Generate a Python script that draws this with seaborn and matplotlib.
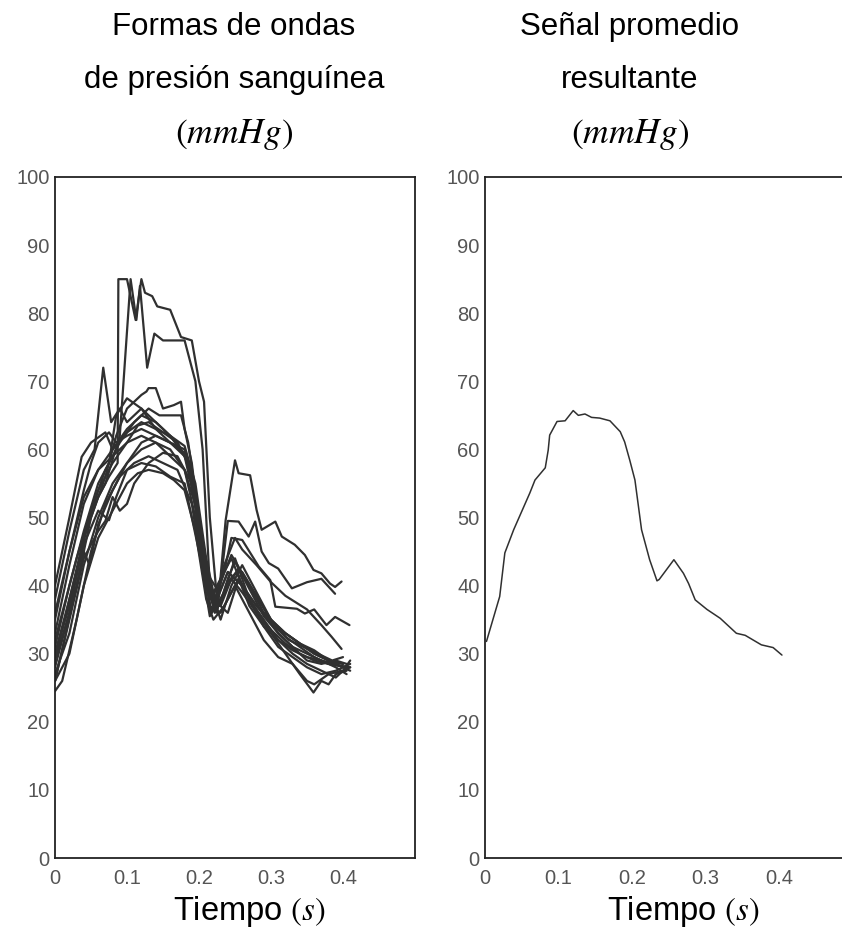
import numpy as np
import pandas as pd
import matplotlib
matplotlib.use("Agg")
import matplotlib.pyplot as plt
import seaborn as sns

# ---- Individual blood-pressure waveforms (time in s, pressure in mmHg) ----
wave_01_t = [0, 0.02, 0.04, 0.06, 0.075, 0.087, 0.088, 0.10, 0.112, 0.12, 0.125, 0.135, 0.142, 0.16, 0.175, 0.19, 0.20, 0.207, 0.215, 0.225, 0.24, 0.26, 0.28, 0.30, 0.32, 0.34, 0.36, 0.38, 0.40]
wave_01_p = [29, 38, 47, 53, 56, 58, 85, 85, 79, 85, 83, 82.5, 81, 80.5, 76.5, 76, 70, 67, 50, 38, 42, 40, 37, 34.5, 33, 31.5, 30, 29, 28.5]

wave_02_t = [0, 0.03, 0.05, 0.07, 0.09, 0.105, 0.113, 0.118, 0.128, 0.138, 0.15, 0.18, 0.195, 0.205, 0.215, 0.23, 0.245, 0.26, 0.28, 0.30, 0.32, 0.34, 0.36, 0.38, 0.405]
wave_02_p = [32, 44, 51, 55, 62, 85, 79, 84, 72, 77, 76, 76, 70, 60, 40, 37, 41, 39, 36, 33.5, 31.5, 30, 29, 28.5, 28]

wave_03_t = [0, 0.02, 0.04, 0.055, 0.067, 0.078, 0.09, 0.10, 0.12, 0.14, 0.16, 0.18, 0.19, 0.205, 0.215, 0.23, 0.245, 0.26, 0.28, 0.30, 0.32, 0.34, 0.36, 0.38, 0.40]
wave_03_p = [38, 48, 57, 60, 72, 64, 66, 64, 66, 63, 61, 60, 56, 45, 38, 41, 44, 40, 37, 35, 33, 31.5, 30, 29, 28]

wave_04_t = [0, 0.03, 0.05, 0.07, 0.085, 0.10, 0.12, 0.127, 0.13, 0.14, 0.15, 0.165, 0.175, 0.18, 0.19, 0.205, 0.22, 0.235, 0.25, 0.26, 0.28, 0.30, 0.32, 0.35, 0.37, 0.384, 0.398]
wave_04_p = [26, 40, 50, 56, 62, 66, 68, 68.5, 69, 69, 66, 66.5, 67, 63, 58, 45, 37, 43, 47, 45.3, 43, 40.5, 38.5, 36.5, 34.2, 32.5, 30.7]

wave_05_t = [0, 0.03, 0.05, 0.07, 0.09, 0.11, 0.13, 0.145, 0.16, 0.175, 0.185, 0.20, 0.215, 0.225, 0.24, 0.255, 0.269, 0.278, 0.287, 0.297, 0.31, 0.329, 0.35, 0.37, 0.389]
wave_05_p = [30, 42, 51, 57, 61, 64, 66, 65, 65, 65, 61, 50, 40, 36, 49.5, 49.4, 47.2, 49.4, 45, 43.3, 42.5, 39.6, 40.5, 41, 38.8]

wave_06_t = [0, 0.02, 0.037, 0.05, 0.07, 0.08, 0.10, 0.12, 0.14, 0.16, 0.18, 0.195, 0.21, 0.228, 0.237, 0.25, 0.255, 0.271, 0.28, 0.287, 0.306, 0.315, 0.333, 0.347, 0.359, 0.37, 0.382, 0.389, 0.398]
wave_06_p = [40, 50, 58.9, 61, 62.5, 60, 63, 65, 64, 62, 59, 52, 42, 39, 49.6, 58.4, 56.5, 56.2, 51.1, 48.2, 49.4, 47.2, 46, 44.5, 42.3, 41.8, 40.3, 39.8, 40.6]

wave_07_t = [0, 0.02, 0.04, 0.06, 0.08, 0.10, 0.12, 0.14, 0.16, 0.18, 0.195, 0.21, 0.22, 0.235, 0.245, 0.26, 0.283, 0.299, 0.306, 0.336, 0.347, 0.36, 0.377, 0.389, 0.409]
wave_07_p = [35, 45, 53, 57, 59, 61, 62, 61, 60, 57, 50, 40, 37, 42, 47, 46.7, 42.8, 40.8, 36.9, 36.6, 35.9, 36.5, 34.2, 35.4, 34.2]

wave_08_t = [0, 0.01, 0.03, 0.05, 0.07, 0.09, 0.11, 0.13, 0.15, 0.17, 0.19, 0.205, 0.215, 0.225, 0.24, 0.26, 0.28, 0.30, 0.32, 0.34, 0.359, 0.37, 0.38, 0.39, 0.405]
wave_08_p = [24.5, 26, 35, 45, 52, 56, 58, 59, 58, 57, 52, 42, 35.5, 38, 42, 40, 36, 33, 30, 27, 24.3, 26, 25.5, 27, 27.5]

wave_09_t = [0, 0.02, 0.04, 0.06, 0.08, 0.10, 0.12, 0.14, 0.16, 0.18, 0.20, 0.215, 0.23, 0.245, 0.26, 0.28, 0.30, 0.32, 0.34, 0.36, 0.38, 0.41]
wave_09_p = [27, 33, 43, 50, 55, 58, 60, 61, 59, 57, 50, 40, 35, 40, 43, 39, 35, 32.5, 31, 29.5, 28.5, 28]

wave_10_t = [0, 0.02, 0.04, 0.06, 0.075, 0.085, 0.10, 0.12, 0.14, 0.16, 0.18, 0.20, 0.218, 0.235, 0.25, 0.27, 0.29, 0.31, 0.33, 0.35, 0.37, 0.39, 0.41]
wave_10_p = [30, 37, 46, 51, 49.6, 53, 57, 58, 57.5, 56, 55, 45, 36, 39, 44, 38, 34, 31, 29.5, 28, 27, 27.5, 28.5]

wave_11_t = [0, 0.02, 0.04, 0.06, 0.07, 0.08, 0.09, 0.10, 0.11, 0.13, 0.15, 0.17, 0.19, 0.205, 0.22, 0.24, 0.255, 0.27, 0.29, 0.31, 0.33, 0.35, 0.37, 0.39, 0.405]
wave_11_p = [26, 35, 44, 48, 49.5, 53, 51, 52, 55, 58, 59.5, 59, 55, 45, 38, 36, 41, 37, 34, 32, 30.5, 29.5, 29, 28, 27]

wave_12_t = [0, 0.03, 0.04, 0.048, 0.06, 0.08, 0.10, 0.12, 0.14, 0.16, 0.18, 0.19, 0.205, 0.222, 0.24, 0.255, 0.27, 0.29, 0.31, 0.33, 0.35, 0.37, 0.39, 0.41]
wave_12_p = [28, 40, 45, 43, 49, 54, 58, 61, 62, 61, 59, 56, 44, 36, 40, 42.5, 40, 36, 33, 31, 30, 29, 28.5, 27.5]

wave_13_t = [0, 0.02, 0.04, 0.06, 0.08, 0.10, 0.115, 0.13, 0.15, 0.17, 0.185, 0.20, 0.215, 0.228, 0.24, 0.25, 0.27, 0.29, 0.31, 0.33, 0.35, 0.37, 0.39, 0.405]
wave_13_p = [29, 36, 47, 54, 58, 61, 63.5, 64, 62.5, 61, 58, 50, 39, 37, 41, 43.5, 39.5, 35.5, 33, 31, 29, 28.5, 29, 28.5]

wave_14_t = [0, 0.02, 0.04, 0.06, 0.08, 0.10, 0.12, 0.14, 0.16, 0.18, 0.195, 0.21, 0.225, 0.24, 0.252, 0.27, 0.29, 0.31, 0.33, 0.35, 0.37, 0.39, 0.40, 0.41]
wave_14_p = [33, 43, 52, 57, 60, 62.5, 64, 63, 62, 60.5, 55, 44, 36.5, 40.5, 42, 38, 35, 32, 30, 28.5, 27.5, 26.5, 27.5, 29]

wave_15_t = [0, 0.02, 0.04, 0.06, 0.075, 0.09, 0.10, 0.115, 0.13, 0.15, 0.165, 0.18, 0.195, 0.21, 0.22, 0.235, 0.25, 0.27, 0.29, 0.31, 0.33, 0.35, 0.36, 0.38, 0.40, 0.41]
wave_15_p = [26, 30, 40, 47, 50, 53, 55, 56.5, 57, 56.5, 55.5, 54, 48, 38, 35, 37, 40, 36, 32, 29.5, 28.5, 26, 25.5, 27, 27.5, 28]

wave_16_t = [0, 0.02, 0.04, 0.05, 0.06, 0.075, 0.085, 0.10, 0.12, 0.14, 0.16, 0.18, 0.19, 0.205, 0.215, 0.228, 0.245, 0.265, 0.285, 0.305, 0.325, 0.345, 0.365, 0.385, 0.40]
wave_16_p = [36, 45, 54, 58, 61, 62.5, 61, 62, 63, 62, 61, 59.5, 57, 44, 38, 40, 44.5, 41, 37.5, 34, 32, 31, 30, 29, 29.5]

wave_17_t = [0, 0.02, 0.04, 0.06, 0.075, 0.085, 0.10, 0.12, 0.135, 0.15, 0.17, 0.185, 0.20, 0.215, 0.23, 0.245, 0.26, 0.28, 0.30, 0.32, 0.34, 0.36, 0.38, 0.40]
wave_17_p = [31, 40, 48, 55, 58, 65, 67.5, 66, 64.5, 63, 61, 58, 48, 37, 36, 39, 42, 38.5, 35, 33, 31.5, 30.5, 29, 28.5]

# ---- Resulting averaged signal ----
avg_t = [0.002, 0.020, 0.027, 0.039, 0.061, 0.068, 0.082, 0.086, 0.088, 0.098, 0.109, 0.120, 0.127,
         0.136, 0.145, 0.156, 0.170, 0.184, 0.190, 0.197, 0.204, 0.213, 0.224, 0.234, 0.237, 0.257,
         0.270, 0.277, 0.286, 0.302, 0.320, 0.342, 0.354, 0.365, 0.376, 0.392, 0.404]
avg_p = [31.8, 38.4, 44.8, 48.2, 53.6, 55.5, 57.3, 59.9, 62.1, 64.1, 64.2, 65.7, 65.0,
         65.2, 64.7, 64.6, 64.2, 62.6, 61.1, 58.4, 55.5, 48.2, 43.8, 40.7, 40.9, 43.8,
         41.8, 40.3, 37.9, 36.5, 35.2, 33.0, 32.7, 32.0, 31.3, 30.9, 29.8]

x_ticks = [0, 0.1, 0.2, 0.3, 0.4]
x_tick_labels = ["0", "0.1", "0.2", "0.3", "0.4"]
y_ticks = list(range(0, 101, 10))

waves = [
    (wave_01_t, wave_01_p), (wave_02_t, wave_02_p), (wave_03_t, wave_03_p),
    (wave_04_t, wave_04_p), (wave_05_t, wave_05_p), (wave_06_t, wave_06_p),
    (wave_07_t, wave_07_p), (wave_08_t, wave_08_p), (wave_09_t, wave_09_p),
    (wave_10_t, wave_10_p), (wave_11_t, wave_11_p), (wave_12_t, wave_12_p),
    (wave_13_t, wave_13_p), (wave_14_t, wave_14_p), (wave_15_t, wave_15_p),
    (wave_16_t, wave_16_p), (wave_17_t, wave_17_p),
]
waves_df = pd.concat(
    [pd.DataFrame({"trace": i, "t": t, "p": p}) for i, (t, p) in enumerate(waves)],
    ignore_index=True,
)
avg_df = pd.DataFrame({"t": avg_t, "p": avg_p})

sns.set_theme(style="white")
plt.rcParams["font.family"] = ["Liberation Sans", "DejaVu Sans"]
plt.rcParams["mathtext.fontset"] = "stix"

W, H = 842, 941
fig = plt.figure(figsize=(W / 100, H / 100), dpi=100)

line_col = "#303030"
tick_col = "#555555"

ax1 = fig.add_axes([55 / W, (H - 858) / H, 360 / W, 681 / H])
ax2 = fig.add_axes([485 / W, (H - 858) / H, 367.5 / W, 681 / H])

sns.lineplot(data=waves_df, x="t", y="p", units="trace", estimator=None,
             color=line_col, linewidth=1.6, ax=ax1, legend=False)
sns.lineplot(data=avg_df, x="t", y="p", color=line_col, linewidth=1.1,
             ax=ax2, legend=False, sort=False)

for ax in (ax1, ax2):
    ax.set_xlim(0, 0.5)
    ax.set_ylim(0, 100)
    ax.set_xticks(x_ticks)
    ax.set_xticklabels(x_tick_labels)
    ax.set_yticks(y_ticks)
    ax.tick_params(axis="both", direction="in", length=6, width=1.2,
                   colors="#222222", labelcolor=tick_col, labelsize=14.5)
    ax.tick_params(axis="x", pad=8)
    ax.tick_params(axis="y", pad=4)
    for s in ax.spines.values():
        s.set_color("#222222")
        s.set_linewidth(1.3)
    ax.set_ylabel("")
    ax.set_xlabel(r"Tiempo $(s)$", fontsize=23.5, color="black")
    ax.xaxis.set_label_coords(0.54, -0.078)
    ax.xaxis.label.set_verticalalignment("center")

# Panel headings
left_cx = 234 / W
right_cx = 630 / W
for cx, lines in ((left_cx, ("Formas de ondas", "de presión sanguínea")),
                  (right_cx, ("Señal promedio", "resultante"))):
    fig.text(cx, 1 - 35 / H, lines[0], ha="center", va="baseline", fontsize=22.5, color="black")
    fig.text(cx, 1 - 88 / H, lines[1], ha="center", va="baseline", fontsize=22.5, color="black")
    fig.text(cx, 1 - 143 / H, r"$(mmHg)$", ha="center", va="baseline", fontsize=25.5, color="black")

fig.savefig("out.png", dpi=100)
